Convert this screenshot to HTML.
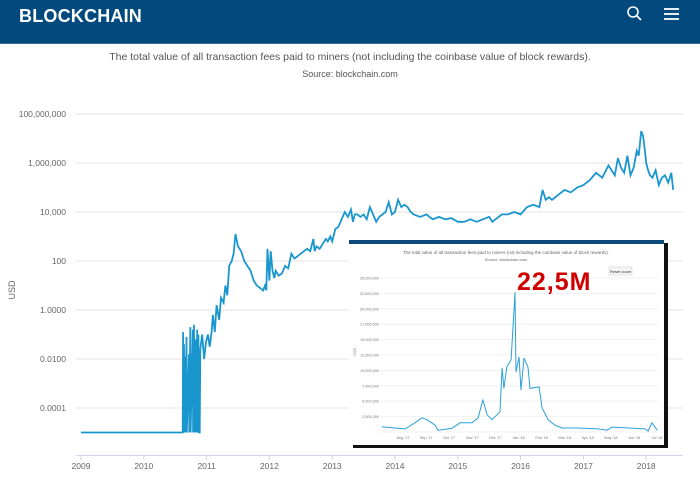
<!DOCTYPE html>
<html><head><meta charset="utf-8"><style>
body{margin:0;width:700px;height:481px;overflow:hidden;background:#fff;font-family:"Liberation Sans",sans-serif}
#hdr{position:absolute;left:0;top:0;width:700px;height:43px;background:#024a7e;border-bottom:1px solid #3a6f98}
#logo{position:absolute;left:19px;top:6px;color:#fff;font-weight:bold;font-size:18px;letter-spacing:0.2px}
svg{position:absolute;left:0;top:0}
</style></head><body>
<div id="hdr">
<div id="logo">BLOCKCHAIN</div>
<svg width="700" height="43">
<g><circle cx="633" cy="12" r="5" fill="none" stroke="#fff" stroke-width="1.6"/><line x1="637" y1="16" x2="641" y2="20" stroke="#fff" stroke-width="1.8"/></g>
<g><line x1="664" y1="9" x2="679" y2="9" stroke="#fff" stroke-width="1.8"/><line x1="664" y1="14" x2="679" y2="14" stroke="#fff" stroke-width="1.8"/><line x1="664" y1="19" x2="679" y2="19" stroke="#fff" stroke-width="1.8"/></g>
</svg></div>
<svg id="ch" width="700" height="481" style="top:0"></svg>
<script>
const yTickVals=[8,6,4,2,0,-2,-4];
const yTickLabels=["100,000,000","1,000,000","10,000","100","1.0000","0.0100","0.0001"];
const xTickYears=[2009,2010,2011,2012,2013,2014,2015,2016,2017,2018];
// main series: year, log10(USD)
const mainYears=[2009,2010.62,2010.625,2010.63,2010.64,2010.645,2010.66,2010.665,2010.68,2010.685,2010.72,2010.725,2010.74,2010.745,2010.78,2010.785,2010.8,2010.805,2010.83,2010.835,2010.85,2010.855,2010.87,2010.875,2010.89,2010.9,2010.93,2010.96,2010.99,2011.02,2011.05,2011.08,2011.1,2011.13,2011.16,2011.2,2011.23,2011.27,2011.3,2011.33,2011.36,2011.4,2011.43,2011.46,2011.5,2011.55,2011.6,2011.65,2011.7,2011.75,2011.8,2011.85,2011.9,2011.93,2011.95,2011.97,2012.0,2012.02,2012.05,2012.08,2012.1,2012.15,2012.2,2012.25,2012.3,2012.35,2012.4,2012.45,2012.5,2012.55,2012.6,2012.65,2012.7,2012.72,2012.75,2012.8,2012.85,2012.9,2012.93,2012.97,2013.0,2013.05,2013.1,2013.15,2013.2,2013.25,2013.3,2013.33,2013.36,2013.4,2013.45,2013.5,2013.55,2013.6,2013.65,2013.7,2013.75,2013.8,2013.85,2013.9,2013.95,2014.0,2014.05,2014.1,2014.15,2014.2,2014.25,2014.3,2014.4,2014.5,2014.6,2014.7,2014.8,2014.9,2015.0,2015.1,2015.2,2015.3,2015.4,2015.5,2015.55,2015.6,2015.7,2015.8,2015.9,2016.0,2016.1,2016.2,2016.3,2016.35,2016.4,2016.45,2016.5,2016.6,2016.7,2016.8,2016.9,2017.0,2017.1,2017.2,2017.3,2017.4,2017.5,2017.55,2017.6,2017.65,2017.7,2017.75,2017.8,2017.85,2017.88,2017.92,2017.95,2017.98,2018.0,2018.03,2018.06,2018.1,2018.15,2018.2,2018.25,2018.3,2018.35,2018.4,2018.43,2018.46,2018.5];
const mainLogs=[-5,-5,-0.9,-5,-1.4,-5,-1.9,-5,-1.1,-5,-1.8,-5,-0.7,-5,-0.8,-5,-0.6,-5,-1.2,-5,-0.8,-5,-1.0,-5,-5,-1.6,-1.0,-2.0,-1.3,-1.0,-1.5,-0.9,-0.2,-0.9,0.2,-0.4,0.5,0.3,1.0,0.6,1.8,2.0,2.3,3.1,2.6,2.4,2.0,1.8,1.6,1.2,1.0,0.9,0.8,1.0,0.8,2.5,1.2,2.4,1.6,1.3,1.6,1.4,1.5,1.8,1.7,2.3,2.1,2.2,2.3,2.4,2.5,2.4,2.9,2.4,2.6,2.5,2.7,2.9,2.8,3.0,2.8,3.3,3.4,3.7,4.0,3.8,4.1,3.6,3.9,3.9,3.8,3.9,3.7,4.2,3.9,3.6,3.8,3.9,4.0,4.4,3.9,4.0,4.5,4.2,4.3,4.2,4.0,3.9,3.8,3.9,3.7,3.8,3.7,3.75,3.6,3.6,3.7,3.6,3.7,3.8,3.6,3.7,3.9,3.9,4.0,3.9,4.2,4.3,4.2,4.9,4.5,4.6,4.5,4.7,4.9,4.8,5.0,5.1,5.3,5.6,5.4,5.9,5.5,6.2,5.8,5.6,6.3,5.5,5.8,6.5,6.3,7.3,7.1,6.5,6.0,5.7,5.5,5.4,5.7,5.1,5.4,5.5,5.2,5.6,4.9];
// inset series: months since Aug 2017, USD millions
const insetMonths=[-0.92,-0.35,0.09,0.52,0.82,1.04,1.39,1.52,2.12,2.47,2.99,3.25,3.46,3.64,3.85,4.07,4.2,4.29,4.37,4.5,4.68,4.85,4.89,5.02,5.11,5.24,5.41,5.5,5.89,6.02,6.28,6.58,6.88,7.58,8.44,8.83,9.05,10.48,10.61,10.78,11.0];
const insetVals=[0.86,0.65,0.5,1.5,2.3,2.0,1.1,0.3,0.6,1.5,1.5,2.3,5.2,2.8,2.0,2.8,3.3,10.4,7.1,10.6,11.7,22.7,9.7,12.2,6.8,12.0,10.5,7.1,7.3,3.9,2.0,1.1,0.65,0.65,0.5,0.3,0.8,0.5,0.15,1.5,0.3,0.2];
const insetYTicks=[0,2.5,5,7.5,10,12.5,15,17.5,20,22.5,25];
const insetYLabels=["","2,500,000","5,000,000","7,500,000","10,000,000","12,500,000","15,000,000","17,500,000","20,000,000","22,500,000","25,000,000"];
const insetXLabels=["Aug '17","Sep '17","Oct '17","Nov '17","Dec '17","Jan '18","Feb '18","Mar '18","Apr '18","May '18","Jun '18","Jul '18"];

const NS="http://www.w3.org/2000/svg",svg=document.getElementById('ch');
function mk(t,a,p){const e=document.createElementNS(NS,t);for(const k in a)e.setAttribute(k,a[k]);(p||svg).appendChild(e);return e;}
const X=y=>81+(y-2009)*62.8, Y=l=>163-(l-6)*24.5;
let t=mk('text',{x:350,y:60,'text-anchor':'middle','font-size':10.5,fill:'#555'});t.textContent="The total value of all transaction fees paid to miners (not including the coinbase value of block rewards).";

t=mk('text',{x:350,y:77,'text-anchor':'middle','font-size':9,fill:'#555'});t.textContent="Source: blockchain.com";

yTickVals.forEach((v,i)=>{const g=mk('line',{x1:76,x2:683,y1:Y(v),y2:Y(v),stroke:'#e3e3e3','stroke-width':1});

const l=mk('text',{x:66,y:Y(v)+3,'text-anchor':'end','font-size':8.5,fill:'#666'});l.textContent=yTickLabels[i];
});
let ax=mk('line',{x1:76,x2:683,y1:455.5,y2:455.5,stroke:'#ccd6eb'});
xTickYears.forEach(yr=>{const k=mk('line',{x1:X(yr),x2:X(yr),y1:455,y2:460,stroke:'#ccd6eb'});
const l=mk('text',{x:X(yr),y:469,'text-anchor':'middle','font-size':8.5,fill:'#666'});l.textContent=yr;});
t=mk('text',{x:15,y:290,'text-anchor':'middle','font-size':9,fill:'#666',transform:'rotate(-90 15 290)'});t.textContent="USD";

let p=mk('path',{d:mainYears.map((y,i)=>(i?'L':'M')+X(y).toFixed(1)+','+Y(mainLogs[i]).toFixed(1)).join(''),fill:'none',stroke:'#1a96cf','stroke-width':1.8});

// inset
const ig=mk('g',{});
mk('rect',{x:353,y:243,width:315,height:205,fill:'#111'},ig);
mk('rect',{x:349,y:240,width:315,height:205,fill:'#fff'},ig);
mk('rect',{x:349,y:240,width:315,height:4,fill:'#0b4a7a'},ig);
const IX=m=>403+m*23.1, IY=v=>432-v*6.16;
let it=mk('text',{x:506,y:254,'text-anchor':'middle','font-size':4.5,fill:'#666'},ig);it.textContent="The total value of all transaction fees paid to miners (not including the coinbase value of block rewards).";

it=mk('text',{x:506,y:261,'text-anchor':'middle','font-size':4,fill:'#666'},ig);it.textContent="Source: blockchain.com";

insetYTicks.forEach((v,i)=>{mk('line',{x1:381,x2:658,y1:IY(v),y2:IY(v),stroke:'#eee','stroke-width':0.8},ig);
const l=mk('text',{x:379,y:IY(v)+1.5,'text-anchor':'end','font-size':3.8,fill:'#777'},ig);l.textContent=insetYLabels[i];
});
insetXLabels.forEach((s,i)=>{const l=mk('text',{x:IX(i),y:439,'text-anchor':'middle','font-size':3.8,fill:'#777'},ig);l.textContent=s;
});
it=mk('text',{x:356,y:356,'font-size':4,fill:'#777',transform:'rotate(-90 356 356)'},ig);it.textContent="USD";
let ip=mk('path',{d:insetMonths.map((m,i)=>(i?'L':'M')+IX(m).toFixed(1)+','+IY(insetVals[i]).toFixed(1)).join(''),fill:'none',stroke:'#2aa0d8','stroke-width':1},ig);

let rb=mk('rect',{x:609,y:267,width:23,height:8,fill:'#f6f6f6',stroke:'#ccc','stroke-width':0.5},ig);

it=mk('text',{x:620.5,y:273,'text-anchor':'middle','font-size':4,fill:'#333'},ig);it.textContent="Reset zoom";
let big=mk('text',{x:517,y:290,'font-size':25,'font-weight':'bold',fill:'#d10000','letter-spacing':'1'},ig);big.textContent="22,5M";

</script>
</body></html>
